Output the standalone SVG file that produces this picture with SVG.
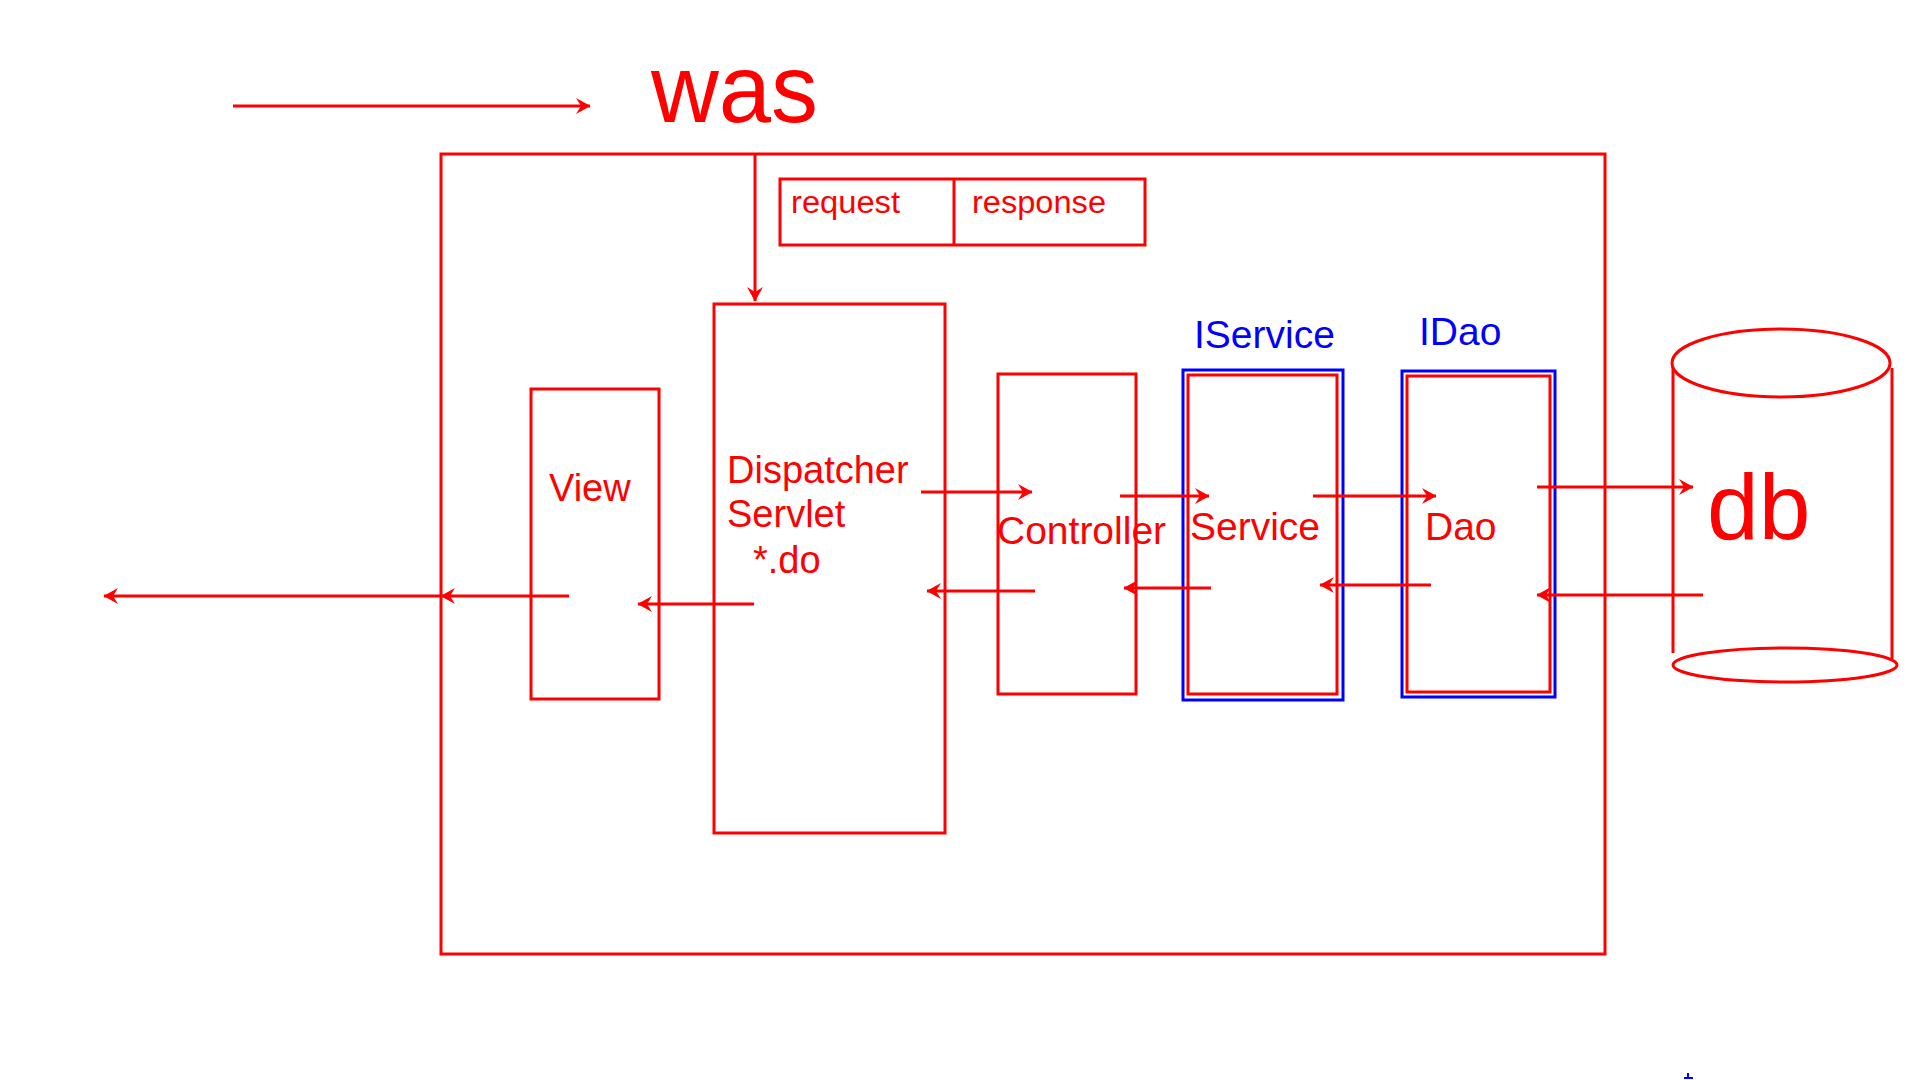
<svg xmlns="http://www.w3.org/2000/svg" width="1920" height="1080" viewBox="0 0 1920 1080">
<style>
.box{fill:none;stroke:#ff0000;stroke-width:3}
.bbox{fill:none;stroke:#0000ff;stroke-width:3}
.t{font-family:"Liberation Sans",Arial,sans-serif;fill:#ff0000}
.tb{font-family:"Liberation Sans",Arial,sans-serif;fill:#0000ff}
.c{stroke:#ff0000;stroke-width:3;fill:none;marker-end:url(#ah)}
</style>
<defs>
<marker id="ah" markerUnits="userSpaceOnUse" markerWidth="16" markerHeight="18" refX="14" refY="8.5" orient="auto">
<path d="M0,0.5 L14.5,8.5 L0,16.5 L5,8.5 z" fill="#ff0000"/>
</marker>
</defs>
<rect width="1920" height="1080" fill="#ffffff"/>
<text class="t" x="651" y="122" font-size="96" textLength="167" lengthAdjust="spacingAndGlyphs">was</text>
<g id="was">
<rect class="box" x="441" y="154" width="1164" height="800"/>
</g>
<g id="reqres">
<rect class="box" x="780" y="179" width="365" height="66"/>
<line x1="954" y1="179" x2="954" y2="245" stroke="#ff0000" stroke-width="3"/>
<text class="t" x="791" y="213" font-size="31" textLength="109" lengthAdjust="spacingAndGlyphs">request</text>
<text class="t" x="972" y="213" font-size="31" textLength="134" lengthAdjust="spacingAndGlyphs">response</text>
</g>
<g id="view">
<rect class="box" x="531" y="389" width="128" height="310"/>
<text class="t" x="549" y="501" font-size="38">View</text>
</g>
<g id="dispatcher">
<rect class="box" x="714" y="304" width="231" height="529"/>
<text class="t" x="727" y="483" font-size="38">Dispatcher</text>
<text class="t" x="727" y="527" font-size="38">Servlet</text>
<text class="t" x="753" y="573" font-size="38">*.do</text>
</g>
<g id="controller">
<rect class="box" x="998" y="374" width="138" height="320"/>
<text class="t" x="997" y="544" font-size="39">Controller</text>
</g>
<g id="service">
<text class="tb" x="1194" y="348" font-size="39">IService</text>
<rect class="bbox" x="1183" y="370" width="160" height="330"/>
<rect class="box" x="1188" y="375" width="149" height="319"/>
<text class="t" x="1190" y="540" font-size="39">Service</text>
</g>
<g id="dao">
<text class="tb" x="1419" y="345" font-size="39">IDao</text>
<rect class="bbox" x="1402" y="371" width="153" height="326"/>
<rect class="box" x="1407" y="376" width="143" height="316"/>
<text class="t" x="1425" y="540" font-size="39">Dao</text>
</g>
<g id="db">
<ellipse class="box" cx="1781" cy="363" rx="109" ry="34"/>
<line x1="1673" y1="368" x2="1673" y2="653" stroke="#ff0000" stroke-width="3"/>
<line x1="1892" y1="368" x2="1892" y2="659" stroke="#ff0000" stroke-width="3"/>
<ellipse class="box" cx="1785" cy="665" rx="112" ry="17"/>
<text class="t" x="1707" y="539" font-size="93">db</text>
</g>
<g id="connectors">
<line class="c" x1="233" y1="106" x2="590" y2="106"/>
<line class="c" x1="755" y1="154" x2="755" y2="301"/>
<line class="c" x1="921" y1="492" x2="1032" y2="492"/>
<line class="c" x1="1120" y1="496" x2="1209" y2="496"/>
<line class="c" x1="1313" y1="496" x2="1436" y2="496"/>
<line class="c" x1="1537" y1="487" x2="1693" y2="487"/>
<line class="c" x1="1703" y1="595" x2="1537" y2="595"/>
<line class="c" x1="1431" y1="585" x2="1320" y2="585"/>
<line class="c" x1="1211" y1="588" x2="1124" y2="588"/>
<line class="c" x1="1035" y1="591" x2="927" y2="591"/>
<line class="c" x1="754" y1="604" x2="638" y2="604"/>
<line class="c" x1="569" y1="596" x2="441" y2="596"/>
<line class="c" x1="441" y1="596" x2="104" y2="596"/>
</g>
<path d="M1688,1073 V1078 M1684,1078 H1693" stroke="#0000ff" stroke-width="2" fill="none"/>
</svg>
